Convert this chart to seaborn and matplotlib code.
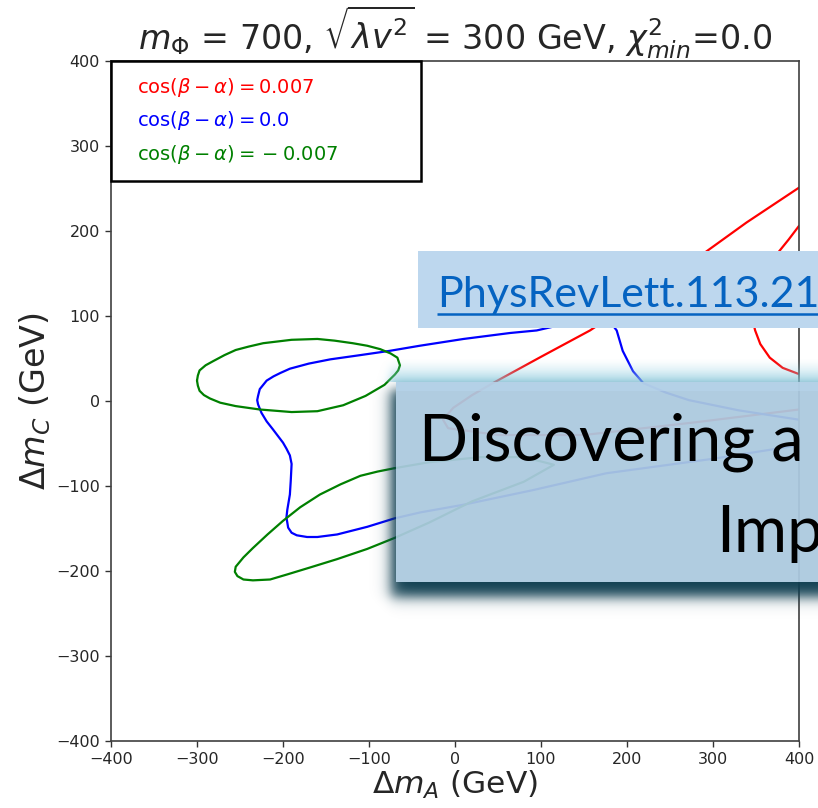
import numpy as np
import matplotlib
matplotlib.use("Agg")
import matplotlib.pyplot as plt
from matplotlib.patches import Rectangle
from matplotlib.lines import Line2D
import seaborn as sns

# ---- contour traces (Delta m_A, Delta m_C) in GeV ----
red_a_x = [400, 339, 291, 240, 200, 157, 100, 44, 20, -2, -14, -8, 50, 150, 280, 400]
red_a_y = [251, 210, 175, 140, 112, 83, 52, 21, 7, -8, -22, -32, -40, -40, -25, -10]

red_b_x = [400, 388, 376, 362, 350, 344, 346, 349, 355, 366, 381, 399]
red_b_y = [206, 190, 175, 152, 130, 112, 96, 83, 67, 51, 39, 32]

blue_x = [400, 300, 176, 90, 10, -40, -70, -102, -137, -160, -172, -184, -190, -194, -196, -195, -194,
          -192, -191, -190, -192, -196, -200, -206, -212, -219, -225, -229, -230, -229, -227, -223,
          -219, -211, -203, -192, -170, -145, -110, -76, -41, 10, 64, 95, 125, 150, 170, 182, 188,
          195, 207, 219, 245, 272, 330, 400]
blue_y = [-52, -68, -85, -105, -122, -131, -138, -148, -157, -160, -160, -158, -155, -149, -137, -128,
          -122, -110, -94, -74, -64, -56, -49, -41, -33, -24, -14, -4, 1, 6, 14, 19,
          24, 29, 33, 38, 44, 49, 54, 59, 65, 73, 80, 83, 90, 96, 96, 91, 83,
          59, 35, 21, 10, 1, -11, -22]

green_a_x = [-300, -299, -297, -290, -281, -268, -255, -240, -223, -190, -160, -140, -119, -102, -87,
             -75, -67, -64, -66, -70, -82, -104, -130, -160, -190, -227, -255, -273, -285, -292,
             -297, -299, -300]
green_a_y = [24, 30, 36, 42, 47, 54, 60, 64, 68, 72, 73, 71, 68, 65, 61,
             56, 51, 42, 36, 31, 19, 6, -5, -12, -13, -10, -6, -2, 3, 7,
             12, 18, 24]

green_b_x = [-70, -30, 30, 80, 115, 80, 20, -30, -70, -102, -137, -169, -195, -215, -235, -246,
             -253, -256, -255, -246, -235, -218, -200, -180, -157, -133, -110, -90, -70]
green_b_y = [-79, -72, -66, -66, -75, -95, -118, -143, -161, -174, -186, -196, -204, -210, -211, -210,
             -206, -201, -195, -184, -173, -157, -141, -125, -110, -98, -88, -83, -79]

curve_colors = {"red": "#ff0000", "blue": "#0000ff", "green": "#008000"}
legend_labels = [r"$\cos(\beta-\alpha)=0.007$",
                 r"$\cos(\beta-\alpha)=0.0$",
                 r"$\cos(\beta-\alpha)={}-0.007$"]
axis_ticks = [-400, -300, -200, -100, 0, 100, 200, 300, 400]

title_text = r"$m_\Phi$ = 700, $\sqrt{\lambda v^2}$ = 300 GeV, $\chi^2_{min}$=0.0"
link_text = "PhysRevLett.113.21"
banner_line1 = "Discovering a"
banner_line2 = "Imp"

# ---- style ----
sns.set_style("ticks")
plt.rcParams["font.family"] = ["DejaVu Sans"]
plt.rcParams["mathtext.fontset"] = "dejavusans"

W, H = 818, 808
fig = plt.figure(figsize=(W / 100, H / 100), dpi=100)
fig.patch.set_facecolor("white")

ax = fig.add_axes([111 / W, 1 - 741 / H, 688 / W, 680 / H])
ax.set_facecolor("white")

traces = [
    (red_a_x, red_a_y, "red"),
    (red_b_x, red_b_y, "red"),
    (blue_x, blue_y, "blue"),
    (green_a_x, green_a_y, "green"),
    (green_b_x, green_b_y, "green"),
]
for xs, ys, key in traces:
    sns.lineplot(x=xs, y=ys, sort=False, estimator=None, color=curve_colors[key],
                 linewidth=1.6, legend=False, ax=ax)

ax.set_xlim(-400, 400)
ax.set_ylim(-400, 400)
ax.set_xticks(axis_ticks)
ax.set_yticks(axis_ticks)
ax.tick_params(axis="both", labelsize=11.5, length=4.5, width=1.0, color="0.2",
               labelcolor="0.15", direction="out")
for s in ax.spines.values():
    s.set_visible(True)
    s.set_color("0.25")
    s.set_linewidth(1.2)

ax.set_title(title_text, fontsize=24, pad=6)
ax.set_xlabel(r"$\Delta m_A$ (GeV)", fontsize=22.5, labelpad=1)
ax.set_ylabel(r"$\Delta m_C$ (GeV)", fontsize=24, labelpad=2)

handles = [Line2D([], [], linestyle="none") for _ in legend_labels]
leg = ax.legend(handles, legend_labels, loc="upper left", bbox_to_anchor=(0, 0, 0.4506, 1),
                mode="expand", borderaxespad=0, handlelength=0, handletextpad=0.6,
                borderpad=0.75, labelspacing=0.55, fontsize=14, fancybox=False,
                framealpha=1, labelcolor=[curve_colors["red"], curve_colors["blue"],
                                          curve_colors["green"]])
leg.get_frame().set_edgecolor("black")
leg.get_frame().set_linewidth(1.8)

# ---- slide overlay in pixel coordinates ----
ov = fig.add_axes([0, 0, 1, 1])
ov.set_axis_off()
ov.patch.set_alpha(0)

yy, xx = np.mgrid[0:H, 0:W] + 0.5


def soft_step(v, w):
    return 0.5 * (1 + np.tanh(v / w))


box_l, box_t, box_b = 396, 382, 582
inside = (xx >= box_l) & (yy >= box_t) & (yy <= box_b)

a_dark = soft_step(xx - 391, 8) * soft_step(yy - 390, 7) * soft_step(597 - yy, 8)
a_glow = soft_step(xx - 390, 5) * np.clip((yy - 358) / 24, 0, 1) ** 1.5 * (yy < box_t) * 0.75
a_dark[inside] = 0
a_glow[inside] = 0

c_dark = np.array([15, 62, 80]) / 255
c_glow = np.array([140, 205, 225]) / 255
a_tot = a_dark + a_glow * (1 - a_dark)
rgb = (c_dark[None, None, :] * a_dark[..., None]
       + c_glow[None, None, :] * (a_glow * (1 - a_dark))[..., None]) / np.maximum(a_tot, 1e-6)[..., None]
shadow = np.dstack([rgb, a_tot])
ov.imshow(shadow, extent=(0, W, H, 0), origin="upper", interpolation="nearest", aspect="auto")

ov.add_patch(Rectangle((box_l, box_t), 500, box_b - box_t, facecolor="#abc9df",
                       edgecolor="none", alpha=0.94))
ov.add_patch(Rectangle((box_l, box_t), 500, 9, facecolor="#b8d5ec",
                       edgecolor="none", alpha=0.6))
ov.text(419, 461, banner_line1, fontsize=46.5, family="Lato", color="black", va="baseline", ha="left")
ov.text(716, 552, banner_line2, fontsize=46.5, family="Lato", color="black", va="baseline", ha="left")

ov.add_patch(Rectangle((418, 251), 500, 77, facecolor="#bdd7ee", edgecolor="none"))
ov.text(437, 307, link_text, fontsize=31, family="Lato", color="#0563c1", va="baseline", ha="left")
ov.plot([437, 830], [313.5, 313.5], color="#0563c1", linewidth=1.8, solid_capstyle="butt")

ov.set_xlim(0, W)
ov.set_ylim(H, 0)

fig.savefig("out.png", dpi=100)
